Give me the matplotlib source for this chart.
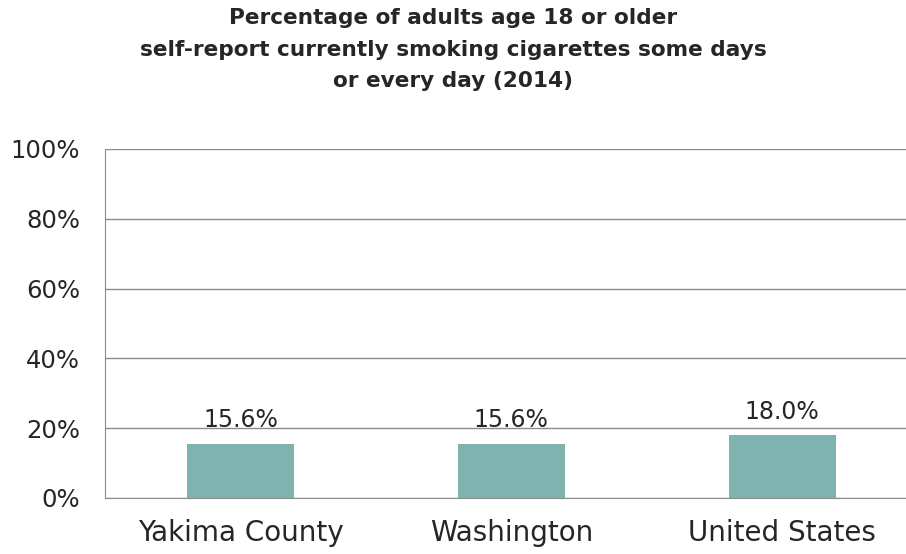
import matplotlib.pyplot as plt
from matplotlib.ticker import PercentFormatter

# Adult smoking prevalence, 2014
areas = ['Yakima County', 'Washington', 'United States']
pct = [15.6, 15.6, 18.0]

bar_color = '#7fb3b0'
grid_color = '#8c8c8c'
text_color = '#262626'

fig = plt.figure(figsize=(9.06, 5.54), dpi=100)
ax = fig.add_axes([0.1159, 0.1011, 0.897, 0.630])

bars = ax.bar(range(len(areas)), pct, width=0.395, color=bar_color, zorder=2)

for b, v in zip(bars, pct):
    ax.text(b.get_x() + b.get_width() / 2, v + 3.3, f'{v:.1f}%',
            ha='center', va='bottom', fontsize=17, color=text_color)

ax.set_xlim(-0.5, len(areas) - 0.5)
ax.set_ylim(0, 100)
ax.set_yticks(range(0, 101, 20))
ax.yaxis.set_major_formatter(PercentFormatter(decimals=0))
ax.set_xticks(range(len(areas)))
ax.set_xticklabels(areas)
ax.tick_params(axis='both', length=0, labelsize=17.5, colors=text_color)
ax.tick_params(axis='x', labelsize=20, pad=15)
ax.tick_params(axis='y', pad=18)

ax.grid(axis='y', color=grid_color, linewidth=1, zorder=0)
for side in ['top', 'right']:
    ax.spines[side].set_visible(False)
ax.spines['left'].set_color(grid_color)
ax.spines['bottom'].set_color(grid_color)

fig.suptitle('Percentage of adults age 18 or older\n'
             'self-report currently smoking cigarettes some days\n'
             'or every day (2014)',
             x=0.5, y=0.985, fontsize=15.6, fontweight='bold',
             color=text_color, linespacing=1.72)

fig.savefig('out.png', dpi=100)
